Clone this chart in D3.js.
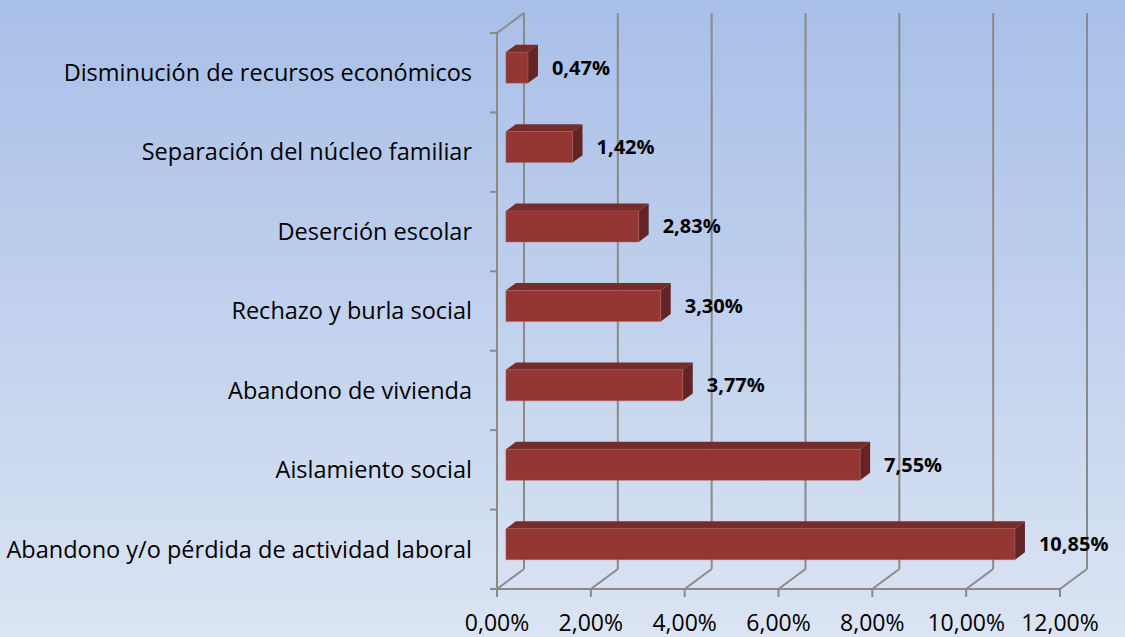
<!DOCTYPE html>
<html>
<head>
<meta charset="utf-8">
<script src="https://cdn.jsdelivr.net/npm/d3@7"></script>
<style>
  html, body { margin: 0; padding: 0; overflow: hidden; }
  svg { display: block; }
</style>
</head>
<body>
<div id="chart"></div>
<script>
// categories from top to bottom as they appear
var categories = [
  "Disminución de recursos económicos",
  "Separación del núcleo familiar",
  "Deserción escolar",
  "Rechazo y burla social",
  "Abandono de vivienda",
  "Aislamiento social",
  "Abandono y/o pérdida de actividad laboral"
];
var values = [0.47, 1.42, 2.83, 3.30, 3.77, 7.55, 10.85];
var tickValues = [0, 2, 4, 6, 8, 10, 12];

var W = 1125, H = 637;
var fmt = function (v) { return d3.format(".2f")(v).replace(".", ",") + "%"; };
var font = "'Open Sans', Lato, sans-serif";

var svg = d3.select("#chart").append("svg")
  .attr("width", W)
  .attr("height", H);

// background gradient
var grad = svg.append("defs").append("linearGradient")
  .attr("id", "bg").attr("x1", 0).attr("y1", 0).attr("x2", 0).attr("y2", 1);
grad.append("stop").attr("offset", "0%").attr("stop-color", "#a8bfe8");
grad.append("stop").attr("offset", "100%").attr("stop-color", "#dbe4f3");
svg.append("rect").attr("width", W).attr("height", H).attr("fill", "url(#bg)");

// front plane scales
var x = d3.scaleLinear().domain([0, 12]).range([497, 1060]);
var y = d3.scaleBand().domain(categories).range([33, 589]);
var yTop = 33, yBot = 589;

// depth offsets (3d look)
var DX = 27, DY = -20;
var z0 = 0.33, z1 = 0.70;
function proj(v, py, z) { return [x(v) + DX * z, py + DY * z]; }
function poly(pts) { return pts.map(function (p) { return p.join(","); }).join(" "); }

var gridColor = "#8a8a8a";
var grid = svg.append("g").attr("stroke", gridColor).attr("stroke-width", 2).attr("fill", "none");

// back wall verticals + floor diagonals
tickValues.forEach(function (t) {
  var a = proj(t, yTop, 1), b = proj(t, yBot, 1), c = proj(t, yBot, 0);
  grid.append("line").attr("x1", a[0]).attr("y1", a[1]).attr("x2", b[0]).attr("y2", b[1]);
  grid.append("line").attr("x1", c[0]).attr("y1", c[1]).attr("x2", b[0]).attr("y2", b[1]);
});
// left wall
var lt = proj(0, yTop, 0), lt1 = proj(0, yTop, 1);
grid.append("line").attr("x1", lt[0]).attr("y1", lt[1]).attr("x2", x(0)).attr("y2", yBot);
grid.append("line").attr("x1", lt[0]).attr("y1", lt[1]).attr("x2", lt1[0]).attr("y2", lt1[1]);
// front floor edge
grid.append("line").attr("x1", x(0)).attr("y1", yBot).attr("x2", x(12)).attr("y2", yBot);

// axis ticks
tickValues.forEach(function (t) {
  grid.append("line").attr("x1", x(t)).attr("y1", yBot).attr("x2", x(t)).attr("y2", yBot + 8);
});
var bounds = categories.map(function (c) { return y(c); }).concat([yBot]);
bounds.forEach(function (b) {
  grid.append("line").attr("x1", x(0) - 7).attr("y1", b).attr("x2", x(0)).attr("y2", b);
});

// bars
var faceH = 31;
var bars = svg.append("g");
categories.forEach(function (c, i) {
  var v = values[i];
  var mid = y(c) + y.bandwidth() / 2 + 1.5;
  var yt = mid - faceH / 2, yb = mid + faceH / 2;
  bars.append("polygon")
    .attr("points", poly([proj(0, yt, z0), proj(v, yt, z0), proj(v, yt, z1), proj(0, yt, z1)]))
    .attr("fill", "#762c2a");
  bars.append("polygon")
    .attr("points", poly([proj(v, yt, z0), proj(v, yt, z1), proj(v, yb, z1), proj(v, yb, z0)]))
    .attr("fill", "#632524");
  bars.append("polygon")
    .attr("points", poly([proj(0, yt, z0), proj(v, yt, z0), proj(v, yb, z0), proj(0, yb, z0)]))
    .attr("fill", "#943634")
    .attr("stroke", "#b5605e").attr("stroke-width", 0.8).attr("stroke-opacity", 0.6);

  var lp = proj(v, mid, z0);
  bars.append("text")
    .attr("x", proj(v, 0, z1)[0] + 14)
    .attr("y", lp[1])
    .attr("dy", "0.35em")
    .attr("font-family", font)
    .attr("font-weight", "bold")
    .attr("font-size", 20)
    .attr("fill", "#000")
    .text(fmt(v));
});

// category labels
svg.append("g").selectAll("text")
  .data(categories)
  .enter().append("text")
  .attr("x", 472)
  .attr("y", function (d) { return y(d) + y.bandwidth() / 2; })
  .attr("dy", "0.35em")
  .attr("text-anchor", "end")
  .attr("font-family", font)
  .attr("font-size", 23.5)
  .attr("fill", "#000")
  .text(function (d) { return d; });

// x tick labels
svg.append("g").selectAll("text")
  .data(tickValues)
  .enter().append("text")
  .attr("x", function (d) { return x(d); })
  .attr("y", 631)
  .attr("text-anchor", "middle")
  .attr("font-family", font)
  .attr("font-size", 23)
  .attr("fill", "#000")
  .text(function (d) { return fmt(d); });
</script>
</body>
</html>
